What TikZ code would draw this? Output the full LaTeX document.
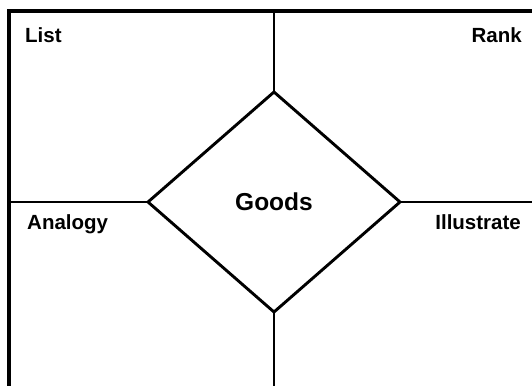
\documentclass[tikz,border=0pt]{standalone}
\usepackage{fontspec}
\setmainfont{Liberation Sans}
\usetikzlibrary{shapes.geometric}

\tikzset{
  frameline/.style={line width=3.4pt},
  spoke/.style={line width=2.9pt},
  hub/.style={draw, shape=diamond, line width=2.9pt, inner sep=0pt, outer sep=0pt,
    minimum width=252pt, minimum height=220pt, aspect=1.145,
    font=\bfseries\fontsize{24.5}{28}\selectfont},
  cornerlabel/.style={font=\bfseries\fontsize{20.5}{24}\selectfont, inner sep=0pt}
}

\begin{document}
\begin{tikzpicture}[x=1pt,y=-1pt]
\useasboundingbox (0,0) rectangle (532,385);
\clip (0,0) rectangle (532,385);

% Outer frame (runs off the right and bottom edges)
\draw[frameline] (9,11) rectangle (560,420);

% Centre diamond
\node[hub] (goods) at (274,202) {Goods};

% Frame points for the spokes
\coordinate (top) at (274,11);
\coordinate (bottom) at (274,420);
\coordinate (left) at (9,202);
\coordinate (right) at (560,202);

\foreach \a/\c in {north/top, south/bottom, west/left, east/right} {
    \draw[spoke] (goods.\a) -- (\c);
}

% Quadrant labels
\foreach \x/\y/\anc/\txt in {25/43/base west/List, 522/43/base east/Rank, 27/229/base west/Analogy, 521/229/base east/Illustrate} {
    \node[cornerlabel, anchor=\anc] (\txt) at (\x,\y) {\txt};
}
\end{tikzpicture}
\end{document}
